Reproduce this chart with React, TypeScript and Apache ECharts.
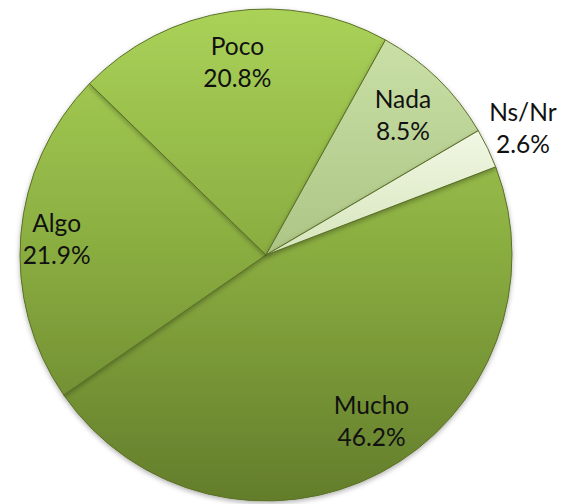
import React, { useEffect, useRef } from 'react';
import * as echarts from 'echarts';

const categories = ['Mucho', 'Algo', 'Poco', 'Nada', 'Ns/Nr'];
const percents = [46.2, 21.9, 20.8, 8.5, 2.6];

// label nudges (px) to mimic the original label placement
const labelNudge: Record<string, { dx: number; dy: number; align?: string }> = {
  Mucho: { dx: 14, dy: -8 },
  Algo: { dx: -14, dy: 0 },
  'Ns/Nr': { dx: 23, dy: -17, align: 'center' },
};

export default function App() {
  const ref = useRef<HTMLDivElement>(null);
  useEffect(() => {
    document.body.style.margin = '0';
    const chart = echarts.init(ref.current!, null, { renderer: 'svg' });
    const green = new echarts.graphic.LinearGradient(
      0, 9, 0, 501,
      [
        { offset: 0, color: '#aad258' },
        { offset: 0.5, color: '#89ac40' },
        { offset: 1, color: '#637d2b' },
      ],
      true
    );
    const nada = new echarts.graphic.LinearGradient(0, 0, 0, 1, [
      { offset: 0, color: '#c9dfa6' },
      { offset: 1, color: '#adc585' },
    ]);
    const nsnr = new echarts.graphic.LinearGradient(0, 0, 0, 1, [
      { offset: 0, color: '#f1f7e4' },
      { offset: 1, color: '#d6e5bb' },
    ]);
    const colors = [green, green, green, nada, nsnr];
    const data = categories.map((name, i) => ({
      name,
      value: percents[i],
      itemStyle: { color: colors[i] },
    }));
    const labelData = categories.map((name, i) => ({
      name,
      value: percents[i],
      label:
        name === 'Ns/Nr'
          ? { position: 'outside', overflow: 'none', width: 200 }
          : { position: 'inside' },
    }));
    chart.setOption({
      animation: false,
      series: [
        {
          type: 'pie',
          center: [266, 255],
          radius: 246,
          startAngle: 21,
          clockwise: true,
          silent: true,
          label: { show: false },
          labelLine: { show: false },
          itemStyle: {
            borderColor: '#5b7027',
            borderWidth: 1,
            shadowBlur: 5,
            shadowColor: 'rgba(0,0,0,0.3)',
            shadowOffsetY: 2,
          },
          data,
        },
        {
          type: 'pie',
          center: [266, 255],
          radius: [140, 246],
          startAngle: 21,
          clockwise: true,
          silent: true,
          itemStyle: { color: 'rgba(0,0,0,0)', borderWidth: 0 },
          label: {
            show: true,
            fontFamily: 'Lato',
            fontSize: 24.5,
            lineHeight: 32,
            color: '#111',
            align: 'center',
            formatter: (p: any) => `${p.name}\n${Number(p.value).toFixed(1)}%`,
          },
          labelLine: { show: false, length: 8, length2: 0 },
          labelLayout: (p: any) => {
            const n = labelNudge[categories[p.dataIndex]];
            return n ? { ...n } : {};
          },
          data: labelData,
        },
      ],
    });
    return () => chart.dispose();
  }, []);
  return <div ref={ref} style={{ width: 563, height: 504 }} />;
}
